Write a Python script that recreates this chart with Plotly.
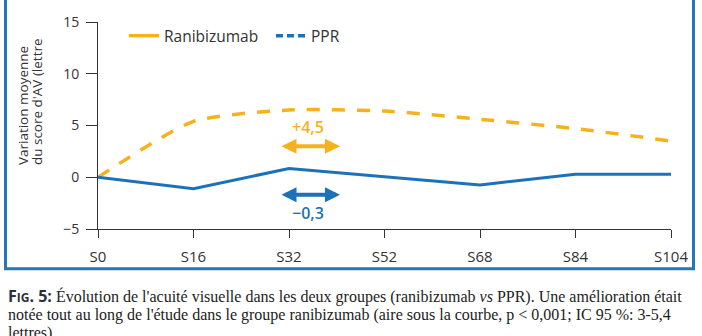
import plotly.graph_objects as go

# ---- data ----
weeks = ["S0", "S16", "S32", "S52", "S68", "S84", "S104"]
ranibizumab = [0.0, 5.4, 6.5, 6.4, 5.6, 4.7, 3.5]
ppr = [0.0, -1.1, 0.85, 0.05, -0.75, 0.3, 0.3]
y_ticks = [-5, 0, 5, 10, 15]
legend_names = ["Ranibizumab", "PPR"]
diff_labels = ["+4,5", "\u22120,3"]

ORANGE = "#F5B21C"
BLUE = "#1C72B8"
BORDER = "#2677BA"
AXIS = "#333333"
SANS = "Open Sans"
SERIF = "Liberation Serif"

xpos = list(range(len(weeks)))

fig = go.Figure()
# plotted curves (no legend entries)
fig.add_trace(go.Scatter(x=xpos, y=ranibizumab, mode="lines", showlegend=False,
                         line=dict(color=ORANGE, width=3.5, dash="13px,12px",
                                   shape="spline", smoothing=0.6)))
fig.add_trace(go.Scatter(x=xpos, y=ppr, mode="lines", showlegend=False,
                         line=dict(color=BLUE, width=3)))
# legend entries as drawn in the reference
fig.add_trace(go.Scatter(x=[None], y=[None], mode="lines", name=legend_names[0],
                         line=dict(color=ORANGE, width=3.5), legend="legend"))
fig.add_trace(go.Scatter(x=[None], y=[None], mode="lines", name=legend_names[1],
                         line=dict(color=BLUE, width=3.5, dash="7px,4px"), legend="legend2"))

# plot area geometry (pixels)
L, R, T, B = 98, 31, 15, 107
W, H = 702, 336
pw, ph = W - L - R, H - T - B


def px_x(p):
    return (p - L) / pw


def px_y(p):
    return (H - B - p) / ph


annotations = []
# difference arrows
for (y_arrow, y_text, color, label) in [(3.0, 4.9, ORANGE, diff_labels[0]),
                                        (-1.7, -3.45, BLUE, diff_labels[1])]:
    annotations.append(dict(x=2.534, y=y_arrow, ax=1.916, ay=y_arrow, xref="x", yref="y",
                            axref="x", ayref="y", text="", showarrow=True,
                            arrowhead=2, startarrowhead=2, arrowside="end+start",
                            arrowsize=0.75, startarrowsize=0.75, arrowwidth=4,
                            arrowcolor=color, standoff=0, startstandoff=0, borderpad=0))
    annotations.append(dict(x=2.2, y=y_text, xref="x", yref="y", text=label,
                            showarrow=False,
                            font=dict(family=SANS, size=16, color=color, weight=600)))

# y-axis title (two lines)
annotations.append(dict(x=px_x(22.5), y=px_y(165), xref="paper", yref="paper",
                        text="Variation moyenne", textangle=-90, showarrow=False,
                        xanchor="center", yanchor="bottom",
                        font=dict(family=SANS, size=13.5, color=AXIS)))
annotations.append(dict(x=px_x(36.5), y=px_y(165), xref="paper", yref="paper",
                        text="du score d'AV (lettre", textangle=-90, showarrow=False,
                        xanchor="center", yanchor="bottom",
                        font=dict(family=SANS, size=13.5, color=AXIS)))

# caption
fig_lbl = ("<span style='font-family:Open Sans;font-weight:bold;color:#2f2f3a'>"
           "F<span style='font-size:12px'>IG</span>. 5:</span> ")
caption_lines = [
    fig_lbl + "Évolution de l'acuité visuelle dans les deux groupes (ranibizumab <i>vs</i> PPR). Une amélioration était",
    "notée tout au long de l'étude dans le groupe ranibizumab (aire sous la courbe, p < 0,001; IC 95 %: 3-5,4",
    "lettres)",
]
for i, line in enumerate(caption_lines):
    annotations.append(dict(x=px_x(6), y=px_y(298 + 19.5 * i), xref="paper", yref="paper",
                            text=line, showarrow=False, xanchor="left", yanchor="middle",
                            align="left",
                            font=dict(family=SERIF, size=16, color="#222222")))

shapes = [dict(type="rect", xref="paper", yref="paper",
               x0=px_x(5.5), x1=px_x(693.5), y0=px_y(270), y1=px_y(-20),
               line=dict(color=BORDER, width=3), fillcolor="rgba(0,0,0,0)", layer="below")]

leg_common = dict(orientation="h", xanchor="left", yanchor="top",
                  font=dict(family=SANS, size=15.5, color=AXIS), bgcolor="rgba(0,0,0,0)",
                  itemwidth=30)

fig.update_layout(
    width=W, height=H,
    margin=dict(l=L, r=R, t=T, b=B, pad=0),
    paper_bgcolor="white", plot_bgcolor="white",
    font=dict(family=SANS, color=AXIS),
    showlegend=True,
    legend=dict(x=px_x(124), y=px_y(12), **leg_common),
    legend2=dict(x=px_x(271), y=px_y(12), **leg_common),
    annotations=annotations,
    shapes=shapes,
    xaxis=dict(range=[0, len(weeks) - 1], tickvals=xpos, ticktext=weeks,
               showgrid=False, zeroline=False, showline=True, linecolor=AXIS, linewidth=1,
               ticks="outside", ticklen=8, tickcolor=AXIS, tickwidth=1,
               tickfont=dict(family=SANS, size=15, color=AXIS), ticklabelstandoff=6),
    yaxis=dict(range=[-5, 15], tickvals=y_ticks, showgrid=False, zeroline=False,
               showline=True, linecolor=AXIS, linewidth=1,
               ticks="outside", ticklen=11, tickcolor=AXIS, tickwidth=1,
               tickfont=dict(family=SANS, size=14, color=AXIS), ticklabelstandoff=4),
)

fig.write_html("out.html")
